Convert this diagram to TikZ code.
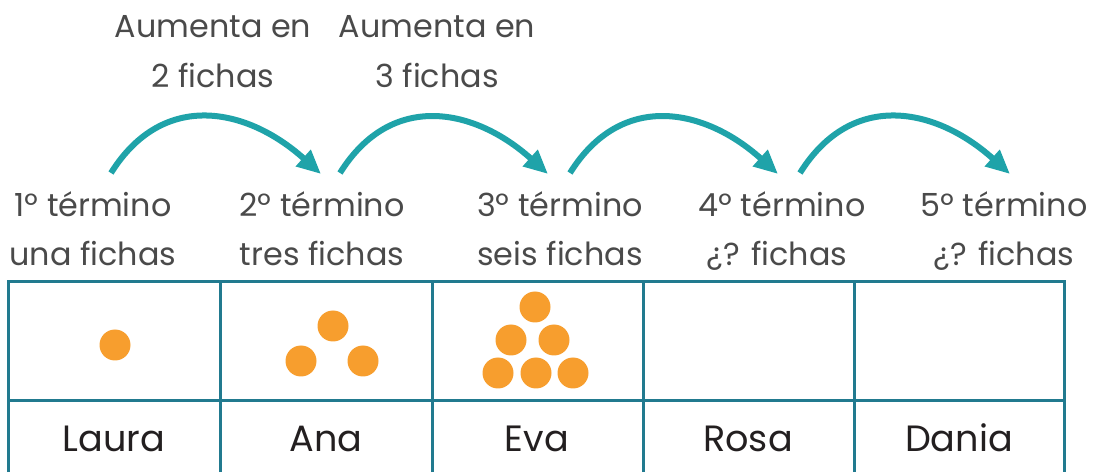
\documentclass[tikz,border=0pt]{standalone}
\usepackage{fontspec}
\setmainfont{Poppins}
\usepackage{xcolor}
\usepackage{tikz}
\usetikzlibrary{arrows.meta,positioning}

\definecolor{flechacol}{HTML}{1FA3A9}
\definecolor{tablacol}{HTML}{217A8F}
\definecolor{fichacol}{HTML}{F79E2E}
\definecolor{textocol}{HTML}{4A4A4A}
\definecolor{nombrecol}{HTML}{231F20}

\begin{document}
\begin{tikzpicture}[x=0.5pt,y=0.5pt,
  texto/.style={anchor=base,inner sep=0pt,text=textocol,font=\fontsize{15.9}{18}\selectfont},
  nombre/.style={anchor=base,inner sep=0pt,text=nombrecol,font=\fontsize{18.3}{21}\selectfont},
  flecha/.style={draw=flechacol,line width=3pt,-{Triangle[length=12pt,width=10.5pt]},looseness=1.2},
  tabla/.style={draw=tablacol,line width=1.5pt},
  ficha/.style={fill=fichacol}]

\useasboundingbox (0,0) rectangle (1094,472);

%-------------------------------------------------
% Labels over the arrows
%-------------------------------------------------

\node[texto] (aum1) at (213,434) {Aumenta en};
\node[texto] (dos) at (213,384) {2 fichas};
\node[texto] (aum2) at (437,434) {Aumenta en};
\node[texto] (tres) at (437,384) {3 fichas};

%-------------------------------------------------
% Terms
%-------------------------------------------------

\node[texto] (t1) at (93,255) {1º término};
\node[texto] (f1) at (93,206) {una fichas};

\node[texto] (t2) at (322,255) {2º término};
\node[texto] (f2) at (322,206) {tres fichas};

\node[texto] (t3) at (560,255) {3º término};
\node[texto] (f3) at (560,206) {seis fichas};

\node[texto] (t4) at (782,255) {4º término};
\node[texto] (f4) at (777,206) {¿? fichas};

\node[texto] (t5) at (1004,255) {5º término};
\node[texto] (f5) at (1004,206) {¿? fichas};

%-------------------------------------------------
% Arrows
%-------------------------------------------------

\draw[flecha] ([shift={(18,44)}]t1.base) to[out=58,in=138] ([shift={(-1,43)}]t2.base);
\draw[flecha] ([shift={(18,44)}]t2.base) to[out=58,in=138] ([shift={(-12,43)}]t3.base);
\draw[flecha] ([shift={(10,44)}]t3.base) to[out=58,in=138] ([shift={(-4,43)}]t4.base);
\draw[flecha] ([shift={(18,44)}]t4.base) to[out=58,in=138] ([shift={(6,43)}]t5.base);

%-------------------------------------------------
% Table
%-------------------------------------------------

\draw[tabla] (8,0) -- (8,190) -- (1064,190) -- (1064,0);
\draw[tabla] (8,71) -- (1064,71);
\draw[tabla] (220,0) -- (220,190);
\draw[tabla] (432,0) -- (432,190);
\draw[tabla] (643,0) -- (643,190);
\draw[tabla] (854,0) -- (854,190);

% Chips
\fill[ficha] (115,127) circle (15.5);

\fill[ficha] (333,146) circle (15.5);
\fill[ficha] (301,111) circle (15.5);
\fill[ficha] (363,111) circle (15.5);

\fill[ficha] (535,165) circle (15.5);
\fill[ficha] (511,132) circle (15.5);
\fill[ficha] (554,132) circle (15.5);
\fill[ficha] (498,99) circle (15.5);
\fill[ficha] (536,99) circle (15.5);
\fill[ficha] (573,99) circle (15.5);

% Names
\node[nombre] (laura) at (114,20) {Laura};
\node[nombre] (ana) at (326,20) {Ana};
\node[nombre] (eva) at (537,20) {Eva};
\node[nombre] (rosa) at (748,20) {Rosa};
\node[nombre] (dania) at (959,20) {Dania};

\end{tikzpicture}
\end{document}
